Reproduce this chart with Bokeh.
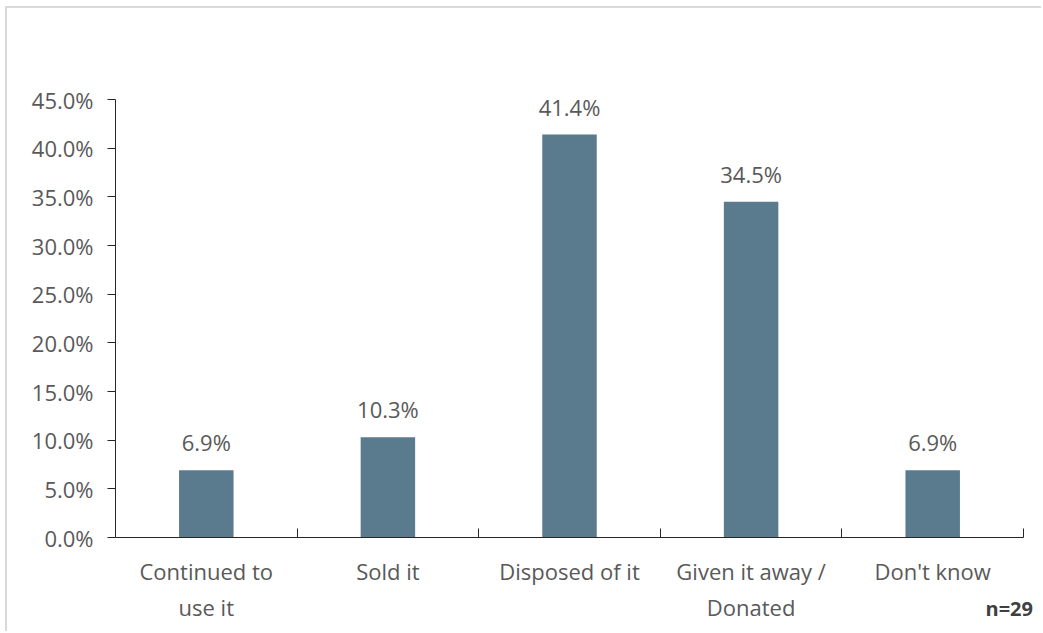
from bokeh.plotting import figure
from bokeh.models import ColumnDataSource, FixedTicker, NumeralTickFormatter, Range1d, Label
from bokeh.core.properties import value
from bokeh.embed import file_html
from bokeh.resources import INLINE

categories = ["Continued to\nuse it", "Sold it", "Disposed of it", "Given it away /\nDonated", "Don't know"]
values = [0.069, 0.103, 0.414, 0.345, 0.069]
value_labels = ["6.9%", "10.3%", "41.4%", "34.5%", "6.9%"]
y_ticks = [0.0, 0.05, 0.10, 0.15, 0.20, 0.25, 0.30, 0.35, 0.40, 0.45]
sample_note = "n=29"

FONT = "Open Sans"
FS = "22px"
GRAY = "#595959"
BAR = "#5a7b8e"

n = len(categories)
centers = [i + 0.5 for i in range(n)]
src = ColumnDataSource(dict(x=centers, top=values, lab=value_labels))

# the frame reaches the bottom and right edges of the canvas; the axes are
# bounded so that they stop where the chart's own plot area ends
Y_MAX = 0.45
Y_MIN = -Y_MAX * 96 / 438
X_MAX = n * 928 / 908

p = figure(width=1036, height=625, output_backend="svg", toolbar_location=None,
           x_range=Range1d(0, X_MAX), y_range=Range1d(Y_MIN, Y_MAX),
           min_border_left=108, min_border_right=0, min_border_top=91, min_border_bottom=0)
p.styles = {"margin-left": "5px", "margin-top": "6px",
            "border-top": "2px solid #d9d9d9", "border-left": "2px solid #d9d9d9"}
p.outline_line_color = None
p.grid.visible = False
p.background_fill_color = "white"
p.border_fill_color = "white"

p.vbar(x="x", top="top", width=0.30, source=src, fill_color=BAR, line_color=None)
p.text(x="x", y="top", text="lab", source=src, text_align="center", text_baseline="middle",
       y_offset=-28, text_font=value(FONT), text_font_size=FS, text_color=GRAY)

# y axis
ya = p.yaxis[0]
ya.bounds = (0, Y_MAX)
ya.ticker = FixedTicker(ticks=y_ticks, minor_ticks=[])
ya.formatter = NumeralTickFormatter(format="0.0%")
ya.major_tick_in = 0
ya.major_tick_out = 8
ya.minor_tick_out = 0
ya.minor_tick_in = 0
ya.axis_line_color = "#262626"
ya.major_tick_line_color = "#262626"
ya.major_label_text_font = FONT
ya.major_label_text_font_size = FS
ya.major_label_text_color = GRAY
ya.major_label_standoff = 14

# x axis: labels at category centres, ticks at category boundaries
xa = p.xaxis[0]
xa.fixed_location = 0
xa.bounds = (0, n)
xa.ticker = FixedTicker(ticks=centers, minor_ticks=list(range(n + 1)))
xa.major_label_overrides = {c: lab for c, lab in zip(centers, categories)}
xa.major_tick_in = 0
xa.major_tick_out = 0
xa.minor_tick_in = 9
xa.minor_tick_out = 0
xa.axis_line_color = "#262626"
xa.minor_tick_line_color = "#262626"
xa.major_label_text_font = FONT
xa.major_label_text_font_size = FS
xa.major_label_text_color = GRAY
xa.major_label_standoff = 18

# sample size note, bottom right
p.add_layout(Label(x=n, y=0, x_offset=-38, y_offset=-84, text=sample_note,
                   text_font=FONT, text_font_size="20px", text_font_style="bold",
                   text_color="#404040", text_baseline="bottom"))

open("out.html", "w").write(file_html(p, INLINE))
